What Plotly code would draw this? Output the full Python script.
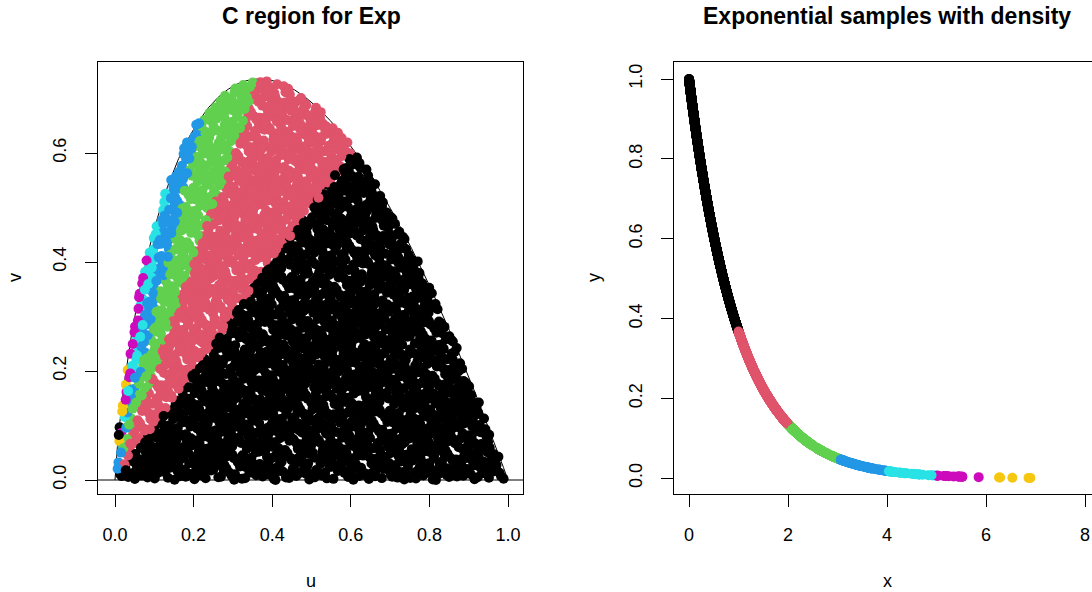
import numpy as np
import plotly.graph_objects as go

# ---------------- data ----------------
# Ratio-of-uniforms region C for the Exp(1) density: 0 <= u <= sqrt(f(v/u)),
# i.e. v <= -2 u log(u).  The individual random samples of the original cannot be
# read off the picture, so the region is filled with a deterministic
# low-discrepancy (Halton) set of proposals.
N_PROPOSALS = 4400
V_MAX = 2.0 / np.e
PALETTE = ["#000000", "#DF536B", "#61D04F", "#2297E6",
           "#28E2E5", "#CD0BBC", "#F5C710", "#9E9E9E"]
U_TICKS = [0.0, 0.2, 0.4, 0.6, 0.8, 1.0]
V_TICKS = [0.0, 0.2, 0.4, 0.6]
X_TICKS = [0, 2, 4, 6, 8]
Y_TICKS = [0.0, 0.2, 0.4, 0.6, 0.8, 1.0]
H_LINE_V = 0.0
TITLE_LEFT = "C region for Exp"
TITLE_RIGHT = "Exponential samples with density"


def halton(n, base):
    out = np.empty(n)
    for k in range(n):
        i = k + 1
        f, r = 1.0, 0.0
        while i > 0:
            f /= base
            r += f * (i % base)
            i //= base
        out[k] = r
    return out


u_prop = halton(N_PROPOSALS, 2)
v_prop = halton(N_PROPOSALS, 3) * V_MAX
accept = v_prop <= -2.0 * u_prop * np.log(u_prop)
u_s = u_prop[accept]
v_s = v_prop[accept]
x_s = v_s / u_s
y_s = np.exp(-x_s)
col_s = [PALETTE[int(np.floor(x)) % len(PALETTE)] for x in x_s]

u_curve = np.linspace(1e-6, 1.0, 600)
v_curve = -2.0 * u_curve * np.log(u_curve)

# ---------------- figure ----------------
W, H = 1092, 592
fig = go.Figure()

fig.add_trace(go.Scatter(x=u_curve, y=v_curve, mode="lines",
                         line=dict(color="black", width=1),
                         xaxis="x", yaxis="y", hoverinfo="skip"))
fig.add_trace(go.Scatter(x=u_s, y=v_s, mode="markers",
                         marker=dict(size=10, color=col_s, line=dict(width=0)),
                         xaxis="x", yaxis="y", hoverinfo="skip"))
fig.add_trace(go.Scatter(x=x_s, y=y_s, mode="markers",
                         marker=dict(size=10, color=col_s, line=dict(width=0)),
                         xaxis="x2", yaxis="y2", hoverinfo="skip"))

fig.add_shape(type="line", xref="x domain", yref="y", x0=0, x1=1,
              y0=H_LINE_V, y1=H_LINE_V, line=dict(color="black", width=1))


def px_x(p):
    return p / W


def px_y(p):
    return (H - p) / H


tickfont = dict(family="Liberation Sans, Arial, sans-serif", size=18, color="black")
common = dict(showgrid=False, zeroline=False, showline=True, mirror=True,
              linecolor="black", linewidth=1, ticks="outside", ticklen=12,
              tickcolor="black", tickwidth=1, tickfont=tickfont)

# pixel geometry of the plot boxes
L_X0, L_X1 = 98, 523
R_X0, R_X1 = 674, 1092
Y_TOP, Y_BOT = 62, 494

# left scales: u=0 at 115px, 393 px/unit ; v=0 at 480px, 545 px/unit
u_rng = [(L_X0 - 115) / 393.0, (L_X1 - 115) / 393.0]
v_rng = [(480 - Y_BOT) / 545.0, (480 - Y_TOP) / 545.0]
# right scales: x=0 at 689px, 49.5 px/unit ; y=0 at 478.3px, 399.3 px/unit
x_rng = [(R_X0 - 689) / 49.5, (R_X1 - 689) / 49.5]
y_rng = [(478.3 - Y_BOT) / 399.3, (478.3 - Y_TOP) / 399.3]

fig.update_layout(
    width=W, height=H,
    margin=dict(l=0, r=0, t=0, b=0),
    paper_bgcolor="white", plot_bgcolor="white",
    showlegend=False,
    xaxis=dict(domain=[px_x(L_X0), px_x(L_X1)], range=u_rng, anchor="y",
               tickvals=U_TICKS, ticktext=[f"{t:.1f}" for t in U_TICKS],
               ticklabelstandoff=12, **common),
    yaxis=dict(domain=[px_y(Y_BOT), px_y(Y_TOP)], range=v_rng, anchor="x",
               tickvals=V_TICKS, ticktext=[f"{t:.1f}" for t in V_TICKS],
               tickangle=-90, ticklabelstandoff=12, **common),
    xaxis2=dict(domain=[px_x(R_X0), px_x(R_X1)], range=x_rng, anchor="y2",
                tickvals=X_TICKS, ticktext=[str(t) for t in X_TICKS],
                ticklabelstandoff=12, **common),
    yaxis2=dict(domain=[px_y(Y_BOT), px_y(Y_TOP)], range=y_rng, anchor="x2",
                tickvals=Y_TICKS, ticktext=[f"{t:.1f}" for t in Y_TICKS],
                tickangle=-90, ticklabelstandoff=12, **common),
)

font_lbl = dict(family="Liberation Sans, Arial, sans-serif", size=18, color="black")
font_ttl = dict(family="Liberation Sans, Arial, sans-serif", size=23, color="black")
ann = [
    dict(text=f"<b>{TITLE_LEFT}</b>", x=px_x(311), y=px_y(16), font=font_ttl),
    dict(text=f"<b>{TITLE_RIGHT}</b>", x=px_x(887), y=px_y(16), font=font_ttl),
    dict(text="u", x=px_x(311), y=px_y(581), font=font_lbl),
    dict(text="x", x=px_x(887), y=px_y(581), font=font_lbl),
    dict(text="v", x=px_x(15), y=px_y(278), font=font_lbl, textangle=-90),
    dict(text="y", x=px_x(594), y=px_y(278), font=font_lbl, textangle=-90),
]
for a in ann:
    fig.add_annotation(xref="paper", yref="paper", showarrow=False,
                       xanchor="center", yanchor="middle", **a)

fig.write_html("out.html",
               config={"displayModeBar": False, "staticPlot": True},
               post_script="document.body.style.margin='0px';"
                           "document.body.style.overflow='hidden';")
